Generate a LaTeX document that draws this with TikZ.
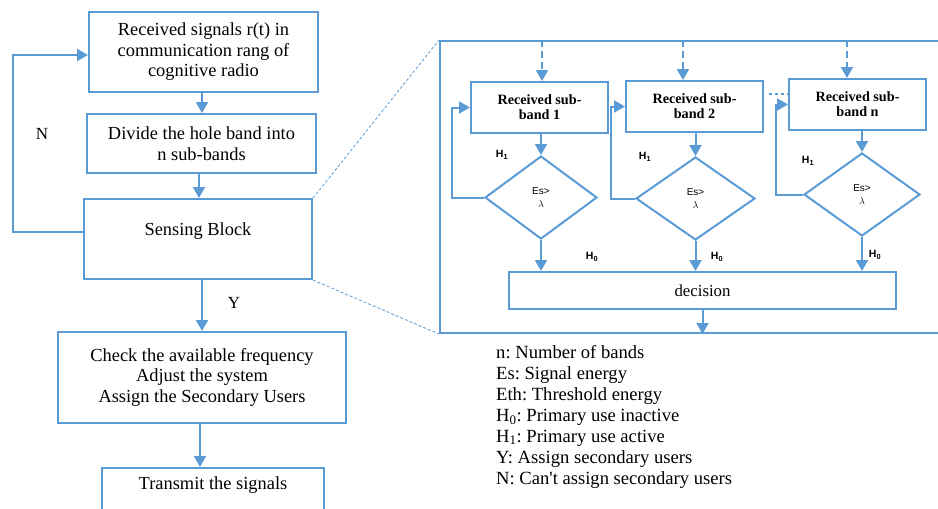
\documentclass[tikz,border=0pt]{standalone}
\usepackage{fontspec}
\setmainfont{Liberation Serif}
\newfontfamily\lsans{Liberation Sans}
\usetikzlibrary{shapes.geometric,arrows.meta,calc}
\definecolor{fblue}{RGB}{91,155,213}
\frenchspacing
\tikzset{
  box/.style={draw=fblue,line width=2pt,inner sep=0pt,align=center,font=\fontsize{18.4}{20.5}\selectfont},
  sbox/.style={draw=fblue,line width=2pt,inner sep=0pt,align=center,minimum width=137pt,minimum height=51pt,font=\fontsize{14.2}{15}\selectfont\bfseries},
  dia/.style={diamond,draw=fblue,line width=2pt,inner sep=0pt,align=center,font=\lsans\fontsize{10}{13}\selectfont},
  arr/.style={draw=fblue,line width=2pt,-{Triangle[length=11pt,width=12pt]}},
  hlab/.style={font=\lsans\bfseries\fontsize{10.5}{12}\selectfont},
  ylab/.style={font=\fontsize{17}{18}\selectfont},
  zoomline/.style={draw=fblue,line width=0.8pt,dash pattern=on 3pt off 2pt},
}
\begin{document}
\begin{tikzpicture}[x=1pt,y=-1pt]
\useasboundingbox (0,0) rectangle (938,509);
% left column
\node[box,minimum width=229pt,minimum height=80pt] (b1) at (203.5,52) {Received signals r(t) in\\communication rang of\\cognitive radio};
\node[box,minimum width=229pt,minimum height=59pt] (b2) at (201.5,143.5) {Divide the hole band into\\n sub-bands};
\node[box,minimum width=228pt,minimum height=80pt] (b3) at (198,239) {};
\node[font=\fontsize{18.4}{20}\selectfont] (t3) at (198,231) {Sensing Block};
\node[box,minimum width=288pt,minimum height=91pt] (b4) at (202,377.5) {Check the available frequency\\Adjust the system\\Assign the Secondary Users};
\node[box,minimum width=222pt,minimum height=60pt] (b5) at (213,498) {};
\node[font=\fontsize{18.4}{20}\selectfont] (t5) at (213,485) {Transmit the signals};

\draw[arr] (b1.south -| 202,0) -- (b2.north -| 202,0);
\draw[arr] (b2.south -| 199,0) -- (b3.north -| 199,0);
\draw[arr] (b3.south -| 202,0) -- (b4.north -| 202,0);
\draw[arr] (b4.south -| 200,0) -- (b5.north -| 200,0);
\node[ylab] (ly) at (234,303) {Y};
\draw[arr] (b3.west |- 0,232) -- (13,232) -- (13,55) -- (b1.west |- 0,55);
\node[ylab] (ln) at (42,134) {N};

% right panel
\node[draw=fblue,line width=2pt,minimum width=505pt,minimum height=292pt,inner sep=0pt] (panel) at (692.5,187) {};
\draw[zoomline] (b3.north east) -- (panel.north west);
\draw[zoomline] (b3.south east) -- (panel.south west);

\node[sbox] (sb1) at (539.5,107.5) {Received sub-\\band 1};
\node[sbox] (sb2) at (694.5,106.5) {Received sub-\\band 2};
\node[sbox] (sbn) at (857.5,104.5) {Received sub-\\band n};

\node[dia,minimum width=112pt,minimum height=83pt] (d1) at (541,197.5) {Es>\\$\lambda$};
\node[dia,minimum width=119pt,minimum height=83pt] (d2) at (695.5,198.5) {Es>\\$\lambda$};
\node[dia,minimum width=116pt,minimum height=83pt] (d3) at (862,194.5) {Es>\\$\lambda$};

\node[box,minimum width=387pt,minimum height=37pt,font=\fontsize{16.8}{18}\selectfont] (dec) at (702.5,290.5) {decision};

\draw[arr,dash pattern=on 7pt off 4pt] (panel.north -| 542,0) -- (sb1.north -| 542,0);
\draw[arr,dash pattern=on 7pt off 4pt] (panel.north -| 683,0) -- (sb2.north -| 683,0);
\draw[arr,dash pattern=on 7pt off 4pt] (panel.north -| 847,0) -- (sbn.north -| 847,0);

\draw[arr] (sb1.south -| d1.north) -- (d1.north);
\draw[arr] (sb2.south -| d2.north) -- (d2.north);
\draw[arr] (sbn.south -| d3.north) -- (d3.north);

\draw[arr] (d1.south) -- (d1.south |- dec.north);
\draw[arr] (d2.south) -- (d2.south |- dec.north);
\draw[arr] (d3.south) -- (d3.south |- dec.north);

\draw[arr] (d1.west) -- (452,197.5) |- (sb1.west);
\draw[arr] (d2.west) -- (611,198.5) |- (sb2.west);
\draw[arr] (d3.west) -- (776,194.5) |- (sbn.west);

\draw[arr] (dec.south) -- (dec.south |- panel.south);
\draw[draw=fblue,line width=2.5pt,dash pattern=on 3pt off 3pt] (sb2.east |- 0,94) ++(5,0) -- (sbn.west |- 0,94);

\node[hlab] (h11) at (502,155) {H\textsubscript{1}};
\node[hlab] (h12) at (645,157) {H\textsubscript{1}};
\node[hlab] (h13) at (808,161) {H\textsubscript{1}};
\node[hlab] (h01) at (592,257) {H\textsubscript{0}};
\node[hlab] (h02) at (717,257) {H\textsubscript{0}};
\node[hlab] (h03) at (875,255) {H\textsubscript{0}};

% legend
\node[anchor=north west,align=left,inner sep=0pt,font=\fontsize{18.6}{21}\selectfont] (leg) at (496,345) {n: Number of bands\\Es: Signal energy\\Eth: Threshold energy\\H\textsubscript{0}: Primary use inactive\\H\textsubscript{1}: Primary use active\\Y: Assign secondary users\\N: Can\textquotesingle t assign secondary users};
\end{tikzpicture}
\end{document}
